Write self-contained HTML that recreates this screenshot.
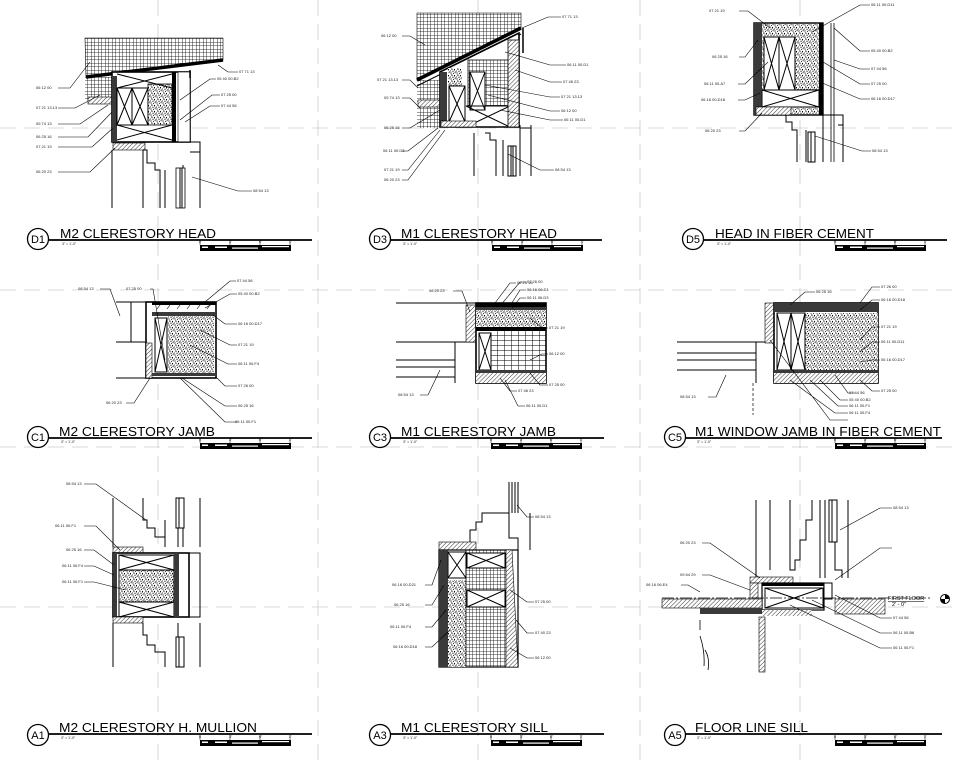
<!DOCTYPE html>
<html><head><meta charset="utf-8"><style>
html,body{margin:0;padding:0;background:#fff;}
svg{display:block}
.l{font-family:"Liberation Sans",sans-serif;font-size:4px;fill:#222}
.t{font-family:"Liberation Sans",sans-serif;font-size:13px;fill:#000}
.s{font-family:"Liberation Sans",sans-serif;font-size:3.5px;fill:#222}
.ld{stroke:#000;stroke-width:0.6;fill:none}
.o{stroke:#000;stroke-width:1;fill:none}
.ob{stroke:#000;stroke-width:1.6;fill:none}
.g{stroke:#ccc;stroke-width:0.8;stroke-dasharray:16 8;fill:none}
</style></head><body>
<svg width="956" height="768" viewBox="0 0 956 768" xmlns="http://www.w3.org/2000/svg">
<defs>
<pattern id="grid" width="3.5" height="3.5" patternUnits="userSpaceOnUse"><path d="M0 0H3.5M0 0V3.5" stroke="#000" stroke-width="0.8"/></pattern>
<pattern id="gridL" width="7" height="5" patternUnits="userSpaceOnUse"><path d="M0 0H7M0 0V5" stroke="#000" stroke-width="1"/></pattern>
<pattern id="st" width="6" height="6" patternUnits="userSpaceOnUse"><rect width="6" height="6" fill="#fff"/><g fill="#000"><circle cx="1" cy="1" r=".6"/><circle cx="3.5" cy="1.5" r=".5"/><circle cx="5.2" cy="0.8" r=".5"/><circle cx="2" cy="3.2" r=".6"/><circle cx="4.5" cy="3.5" r=".6"/><circle cx="0.6" cy="5" r=".5"/><circle cx="3" cy="5.2" r=".6"/><circle cx="5.4" cy="5.4" r=".4"/><path d="M1.2 2.2l1 .4M4 4.6l1-.4M3.8 0.3l.6.6" stroke="#000" stroke-width=".4"/></g></pattern>
<pattern id="h" width="3" height="3" patternUnits="userSpaceOnUse" patternTransform="rotate(45)"><rect width="3" height="3" fill="#fff"/><path d="M0 0V3" stroke="#000" stroke-width="0.8"/></pattern>
<pattern id="dk" width="2" height="2" patternUnits="userSpaceOnUse"><rect width="2" height="2" fill="#222"/><circle cx="1" cy="1" r=".4" fill="#fff"/></pattern>
</defs>

<path class="g" d="M158 0V768M318 0V768M478 0V768M640 0V768M800 0V768M0 128H956M0 290H956M0 447H956M0 607H956"/>

<!-- D1 -->
<polygon points="85,38 223,38 223,60 86,77" fill="url(#grid)" stroke="#000" stroke-width=".6"/>
<rect x="85" y="77" width="28" height="23" fill="url(#grid)"/>
<path d="M86 77L223 60" stroke="#000" stroke-width="3.5"/>
<rect x="88" y="97" width="25" height="7" fill="url(#h)" stroke="#000" stroke-width=".6"/>
<rect x="112" y="72" width="78" height="70" class="ob" style="fill:#fff"/>
<rect x="112" y="76" width="5" height="66" fill="url(#dk)"/>
<rect x="117" y="88" width="15" height="37" class="o"/><path class="o" d="M117 88L132 125M132 88L117 125"/>
<rect x="132" y="88" width="16" height="37" class="o"/><path class="o" d="M132 88L148 125M148 88L132 125"/>
<rect x="148" y="84" width="24" height="41" fill="url(#st)" stroke="#000" stroke-width=".8"/>
<path class="o" d="M117 74L172 88M172 74L117 88M117 125L172 140M172 125L117 140"/>
<rect x="172" y="72" width="4" height="70" fill="#000"/>
<rect x="178" y="72" width="12" height="70" fill="#fff" stroke="#000" stroke-width=".6"/>
<path d="M190 70v8" stroke="#000" stroke-width="1.5"/>
<rect x="113" y="143" width="32" height="7" fill="url(#h)" stroke="#000" stroke-width=".6"/>
<path class="o" d="M112 150V208M143 150V208M143 150H147V163H155V170H160V208M165 170V208M178 168V208M183 165V208M200 142V208M178 142H200V152H190"/>
<rect x="176" y="168" width="9" height="40" fill="#fff" stroke="#000" stroke-width=".8"/><path class="o" d="M180 168V208M182 168V208"/>
<g class="ld"><path d="M58 88H70L90 62M58 108H75L100 95M58 124H80L108 105M58 137H88L112 112M58 147H92L113 128M58 172H90L115 148M238 72H228L218 65M216 79H210L180 100M220 95H212L180 120M220 106H210L185 122M252 191H238L192 177"/></g>
<g class="l"><text x="36" y="89">06 12 00</text><text x="36" y="109">07 21 13.13</text><text x="36" y="125">09 74 13</text><text x="36" y="138">06 25 16</text><text x="36" y="148">07 21 19</text><text x="36" y="173">06 20 23</text><text x="239" y="73">07 71 13</text><text x="217" y="80">05 40 00.B2</text><text x="221" y="96">07 25 00</text><text x="221" y="107">07 44 56</text><text x="253" y="192">08 54 13</text></g>

<!-- D3 -->
<polygon points="417,13 521,13 521,28 417,80" fill="url(#grid)" stroke="#000" stroke-width=".6"/>
<rect x="417" y="80" width="23" height="48" fill="url(#grid)"/>
<path d="M417 80L521 28" stroke="#000" stroke-width="3.5"/>
<path d="M417 86L521 34" stroke="#000" stroke-width="1"/>
<rect x="418" y="100" width="22" height="7" fill="url(#h)" stroke="#000" stroke-width=".6"/>
<polygon points="440,72 519,33 519,127 440,127" fill="#fff" stroke="#000" stroke-width="1.6"/>
<rect x="440" y="72" width="7" height="55" fill="url(#dk)"/>
<rect x="448" y="68" width="14" height="18" fill="url(#st)"/>
<rect x="449" y="86" width="16" height="36" class="o"/><path class="o" d="M449 86L465 122M465 86L449 122"/>
<rect x="468" y="60" width="40" height="46" fill="url(#grid)" stroke="#000" stroke-width=".8"/>
<rect x="470" y="72" width="15" height="38" class="o" style="fill:#fff"/><path class="o" d="M470 72L485 110M485 72L470 110"/>
<path class="o" d="M466 106L510 127M510 106L466 127M466 106H510"/>
<rect x="508" y="40" width="11" height="87" fill="url(#h)" stroke="#000" stroke-width=".8"/>
<path d="M523 28v25" stroke="#000" stroke-width="1.5"/>
<rect x="441" y="121" width="35" height="6" fill="url(#h)" stroke="#000" stroke-width=".6"/>
<path class="o" d="M474 133V176M485 133H490V140H496V176M503 140V176M520 125V176M531 125V176M520 128H531"/>
<rect x="508" y="146" width="8" height="30" fill="#fff" stroke="#000"/><path class="o" d="M511 146V176M513 146V176"/>
<g class="ld"><path d="M402 36H410L425 45M402 80H410L418 88M402 98H410L420 108M402 128H410L440 110M402 151H408L438 128M402 170H408L440 130M402 180H408L445 130M561 17H548L522 28M566 65H550L505 52M562 82H550L515 70M560 97H550L485 85M560 111H550L488 95M563 120H550L500 110M554 170H540L508 154"/></g>
<g class="l"><text x="381" y="37">06 12 00</text><text x="377" y="81">07 21 13.13</text><text x="384" y="99">09 74 13</text><text x="384" y="129">06 25 16</text><text x="383" y="152">06 11 00.D3</text><text x="384" y="171">07 21 19</text><text x="384" y="181">06 20 23</text><text x="562" y="18">07 71 13</text><text x="567" y="66">06 11 00.D1</text><text x="563" y="83">07 46 23</text><text x="561" y="98">07 21 13.13</text><text x="561" y="112">06 12 00</text><text x="564" y="121">06 11 00.D1</text><text x="555" y="171">08 54 13</text></g>

<!-- D5 -->
<rect x="754" y="23" width="69" height="92" fill="url(#st)" stroke="#000" stroke-width="1.4"/>
<rect x="754" y="23" width="8" height="92" fill="url(#dk)"/>
<rect x="764" y="37" width="15" height="53" class="o" style="fill:#fff"/><path class="o" d="M764 37L779 90M779 37L764 90"/>
<rect x="779" y="37" width="16" height="53" class="o" style="fill:#fff"/><path class="o" d="M779 37L795 90M795 37L779 90"/>
<rect x="762" y="90" width="57" height="17" class="o" style="fill:#fff"/><path class="o" d="M762 90L819 107M819 90L762 107"/>
<rect x="819" y="23" width="4" height="92" fill="#000"/>
<path d="M831 23V162M834 23V162" stroke="#000" stroke-width=".8"/>
<rect x="756" y="107" width="35" height="8" fill="url(#h)" stroke="#000" stroke-width=".6"/>
<path class="o" d="M786 115V122H792V130H797V162M806 130V162M823 115V162M843 115V162M823 115H843V125H838"/>
<rect x="808" y="132" width="7" height="30" fill="#fff" stroke="#000"/><path class="o" d="M811 132V162"/>
<g class="ld"><path d="M739 11H748L770 28M739 57H745L758 40M738 84H745L768 62M738 100H745L760 93M739 131H745L762 113M870 5H860L812 32M870 51H860L834 28M870 69H860L834 60M870 84H860L823 62M870 99H860L820 82M871 151H862L815 136"/></g>
<g class="l"><text x="709" y="12">07 21 19</text><text x="712" y="58">06 25 16</text><text x="704" y="85">06 11 00.A7</text><text x="701" y="101">06 16 00.D18</text><text x="705" y="132">06 20 23</text><text x="871" y="6">06 11 00.D11</text><text x="871" y="52">05 40 00.B2</text><text x="871" y="70">07 44 56</text><text x="871" y="85">07 25 00</text><text x="871" y="100">06 16 00.D17</text><text x="872" y="152">08 54 13</text></g>

<!-- C1 -->
<path class="o" d="M116 302H146M116 342H146M131 302V342M116 378H216"/>
<rect x="146" y="302" width="70" height="76" class="ob" style="fill:#fff"/>
<rect x="152" y="302" width="64" height="3" fill="#000"/>
<path d="M160 305l-3 4M170 305l-3 4M180 305l-3 4M190 305l-3 4M200 305l-3 4M210 305l-3 4" stroke="#000" stroke-width=".6"/>
<rect x="152" y="312" width="64" height="4" fill="url(#dk)"/>
<rect x="168" y="316" width="46" height="57" fill="url(#st)"/>
<rect x="155" y="318" width="12" height="54" class="o"/><path class="o" d="M155 318L167 372M167 318L155 372"/>
<rect x="146" y="343" width="6" height="35" fill="url(#h)" stroke="#000" stroke-width=".6"/>
<rect x="152" y="373" width="64" height="3" fill="url(#dk)"/>
<g class="ld"><path d="M100 289H110L120 316M150 289H153L165 360M236 281H230L205 302M237 294H230L205 308M237 324H225L213 315M237 345H230L200 330M237 364H228L190 345M237 386H225L216 377M237 406H225L182 378M237 422H225L180 378M126 403H134L150 378"/></g>
<g class="l"><text x="78" y="290">08 54 13</text><text x="126" y="290">07 25 00</text><text x="237" y="282">07 44 56</text><text x="238" y="295">05 40 00.B2</text><text x="238" y="325">06 16 00.D17</text><text x="238" y="346">07 21 19</text><text x="238" y="365">06 11 00.F4</text><text x="238" y="387">07 26 00</text><text x="238" y="407">06 25 16</text><text x="235" y="423">06 11 00.F1</text><text x="106" y="404">06 20 23</text></g>

<!-- C3 -->
<path class="o" d="M396 303H476M396 342H476M396 360H455M396 367H455M396 377H455M455 342V383"/>
<rect x="466" y="305" width="10" height="37" fill="url(#h)" stroke="#000" stroke-width=".6"/>
<rect x="476" y="303" width="70" height="80" class="ob" style="fill:#fff"/>
<rect x="476" y="303" width="70" height="4" fill="#000"/>
<rect x="476" y="307" width="70" height="3" fill="url(#dk)"/>
<rect x="476" y="310" width="70" height="17" fill="url(#st)"/>
<rect x="476" y="327" width="70" height="4" fill="#000"/>
<rect x="491" y="331" width="55" height="39" fill="url(#gridL)"/>
<rect x="479" y="333" width="12" height="37" class="o" style="fill:#fff"/><path class="o" d="M479 333L491 370M491 333L479 370"/>
<rect x="476" y="370" width="70" height="3" fill="url(#dk)"/>
<rect x="476" y="373" width="70" height="10" fill="url(#h)"/>
<g class="ld"><path d="M453 291H462L470 312M516 283H510L495 303M526 282H520L500 306M526 290H520L510 306M526 298H520L512 308M548 328H542L530 318M548 354H542L530 360M548 385H540L530 373M517 391H510L500 378M525 406H518L505 380M420 395H428L440 370"/></g>
<g class="l"><text x="429" y="292">06 20 23</text><text x="517" y="284">06 25 16</text><text x="527" y="283">07 26 00</text><text x="527" y="291">06 16 06.D1</text><text x="527" y="299">06 11 06.D3</text><text x="549" y="329">07 21 19</text><text x="549" y="355">06 12 00</text><text x="549" y="386">07 25 00</text><text x="518" y="392">07 46 23</text><text x="526" y="407">06 11 00.D1</text><text x="398" y="396">08 54 13</text></g>

<!-- C5 -->
<path class="o" d="M677 342H774M677 353H756M677 360H756M677 370H756M756 342V383"/>
<path d="M753 383V415" stroke="#000" stroke-width=".7" stroke-dasharray="3 2"/>
<rect x="765" y="303" width="9" height="40" fill="url(#h)" stroke="#000" stroke-width=".6"/>
<rect x="774" y="303" width="104" height="80" class="ob" style="fill:#fff"/>
<rect x="774" y="303" width="104" height="9" fill="url(#dk)"/>
<rect x="805" y="313" width="73" height="57" fill="url(#st)"/>
<rect x="777" y="313" width="14" height="57" class="o" style="fill:#fff"/><path class="o" d="M777 313L791 370M791 313L777 370"/>
<rect x="791" y="313" width="14" height="57" class="o" style="fill:#fff"/><path class="o" d="M791 313L805 370M805 313L791 370"/>
<rect x="774" y="370" width="104" height="3" fill="url(#dk)"/>
<rect x="774" y="373" width="104" height="10" fill="url(#h)"/>
<g class="ld"><path d="M815 292H805L790 305M880 287H872L860 303M880 300H872L860 310M880 327H872L860 340M880 342H872L860 352M880 360H872L860 362M880 391H872L860 380M855 393H848L835 375M848 400H840L820 380M848 406H838L810 380M848 413H835L790 380M848 420H830L770 340M708 397H716L726 375"/></g>
<g class="l"><text x="816" y="293">06 25 16</text><text x="881" y="288">07 26 00</text><text x="881" y="301">06 16 00.D18</text><text x="881" y="328">07 21 19</text><text x="881" y="343">06 11 00.D11</text><text x="881" y="361">06 16 00.D17</text><text x="881" y="392">07 25 00</text><text x="849" y="394">07 44 56</text><text x="849" y="401">05 40 00.B2</text><text x="849" y="407">06 11 00.F1</text><text x="849" y="414">06 11 00.F4</text><text x="680" y="398">08 54 13</text></g>

<!-- A1 -->
<path class="o" d="M113 498V547M143 498V520H147V528H155V537H165V547M165 520V547M178 498V547M183 498V547M200 498V547M113 623V667M143 623V635H147V645H155V652H165V667M178 623V667M200 623V667M189 553H200V617H189"/>
<rect x="176" y="498" width="8" height="30" fill="#fff" stroke="#000"/><path class="o" d="M179 498V528"/>
<rect x="176" y="637" width="8" height="30" fill="#fff" stroke="#000"/><path class="o" d="M179 637V667"/>
<rect x="113" y="547" width="30" height="6" fill="url(#h)" stroke="#000" stroke-width=".6"/>
<rect x="113" y="553" width="76" height="64" class="ob" style="fill:#fff"/>
<rect x="113" y="553" width="4" height="64" fill="url(#dk)"/>
<rect x="119" y="555" width="55" height="15" class="o"/><path class="o" d="M119 555L174 570M174 555L119 570"/>
<rect x="119" y="570" width="55" height="32" fill="url(#st)" stroke="#000" stroke-width="1"/>
<rect x="119" y="602" width="55" height="15" class="o"/><path class="o" d="M119 602L174 617M174 602L119 617"/>
<rect x="174" y="553" width="5" height="64" fill="url(#dk)"/>
<rect x="113" y="617" width="30" height="6" fill="url(#h)" stroke="#000" stroke-width=".6"/>
<g class="ld"><path d="M84 484H96L146 520M84 526H96L120 550M84 550H94L114 565M84 566H94L114 575M84 582H94L126 590"/></g>
<g class="l"><text x="66" y="485">08 54 13</text><text x="55" y="527">06 11 00.F1</text><text x="66" y="551">06 25 16</text><text x="62" y="567">06 11 00.F4</text><text x="62" y="583">06 11 00.F1</text></g>

<!-- A3 -->
<path class="o" d="M509 482V513M512 482V513M515 482V513M518 482V513M470 550V530H476V522H482V513H509V538H518V550M530 513V550"/>
<rect x="439" y="542" width="37" height="8" fill="url(#h)" stroke="#000" stroke-width=".6"/>
<rect x="439" y="550" width="79" height="117" fill="#fff" stroke="#000" stroke-width="1.2"/>
<rect x="439" y="550" width="9" height="117" fill="url(#dk)"/>
<rect x="448" y="580" width="18" height="87" fill="url(#st)"/>
<rect x="448" y="552" width="18" height="26" class="o"/><path class="o" d="M448 552L466 578M466 552L448 578"/>
<rect x="466" y="550" width="40" height="117" fill="url(#grid)" stroke="#000" stroke-width=".8"/>
<rect x="467" y="553" width="38" height="15" class="o" style="fill:#fff"/><path class="o" d="M467 553L505 568M505 553L467 568"/>
<rect x="467" y="590" width="38" height="17" class="o" style="fill:#fff"/><path class="o" d="M467 590L505 607M505 590L467 607"/>
<polygon points="506,550 512,550 518,667 506,667" fill="url(#h)" stroke="#000" stroke-width=".6"/>
<g class="ld"><path d="M425 585H432L441 560M425 605H432L444 585M425 627H432L446 610M425 647H432L450 630M534 517H527L517 505M534 602H527L510 590M534 633H527L516 620M534 658H527L510 648"/></g>
<g class="l"><text x="392" y="586">06 16 00.D21</text><text x="394" y="606">06 25 16</text><text x="390" y="628">06 11 00.F4</text><text x="393" y="648">06 16 00.D18</text><text x="535" y="518">08 54 13</text><text x="535" y="603">07 25 00</text><text x="535" y="634">07 40 23</text><text x="535" y="659">06 12 00</text></g>

<!-- A5 -->
<path class="o" d="M756 500V577M770 500V570M790 500V570H795V560H800V540H806V520H812V500M820 500V578M825 500V578M835 500V570H842V578M848 500V578"/>
<rect x="829" y="500" width="8" height="42" fill="#fff" stroke="#000"/><path class="o" d="M832 500V542"/>
<rect x="750" y="577" width="43" height="6" fill="url(#h)" stroke="#000" stroke-width=".6"/>
<rect x="750" y="583" width="8" height="15" fill="url(#h)" stroke="#000" stroke-width=".6"/>
<rect x="762" y="583" width="62" height="27" fill="#fff" stroke="#000" stroke-width="1.2"/>
<rect x="762" y="583" width="62" height="3" fill="#000"/>
<rect x="765" y="588" width="58" height="20" class="o"/><path class="o" d="M765 588L823 608M823 588L765 608"/>
<rect x="824" y="583" width="8" height="16" fill="#fff" stroke="#000"/>
<path d="M662 598H930" stroke="#000" stroke-width=".8" stroke-dasharray="12 2 2 2"/>
<rect x="662" y="599" width="100" height="9" fill="url(#h)" stroke="#000" stroke-width=".6"/>
<rect x="700" y="608" width="62" height="6" fill="url(#dk)"/>
<rect x="762" y="610" width="50" height="6" fill="url(#h)"/>
<rect x="835" y="599" width="50" height="15" fill="url(#h)" stroke="#000" stroke-width=".6"/>
<rect x="759" y="617" width="6" height="55" fill="url(#h)" stroke="#000" stroke-width=".6"/>
<path d="M700 620v10M700 636q5 15 4 30M705 650q5 8 3 20" stroke="#000" stroke-width=".8" fill="none"/>
<text x="888" y="600" style="font-family:'Liberation Sans',sans-serif;font-size:5.5px;text-decoration:underline">FIRST FLOOR</text>
<text x="892" y="606" style="font-family:'Liberation Sans',sans-serif;font-size:5.5px">2' - 0"</text>
<circle cx="945" cy="599" r="4.5" fill="#fff" stroke="#000"/><path d="M945 594.5A4.5 4.5 0 0 1 949.5 599H945Z M945 603.5A4.5 4.5 0 0 1 940.5 599H945Z" fill="#000"/>
<g class="ld"><path d="M892 548H880L835 580M892 508H880L840 530M702 543H710L760 578M702 575H710L750 590M681 585H688L700 592M892 618H880L835 595M892 633H880L812 600M892 648H880L790 605"/></g>
<g class="l"><text x="893" y="509">08 54 13</text><text x="680" y="544">06 20 23</text><text x="680" y="576">09 64 29</text><text x="646" y="586">06 16 06.E4</text><text x="893" y="619">07 44 56</text><text x="893" y="634">06 11 00.B6</text><text x="893" y="649">06 11 00.F1</text></g>

<!-- TITLES -->
<g fill="none" stroke="#000">
<circle cx="38" cy="239" r="10.5" stroke-width="1.3"/><path d="M49 240H312" stroke-width="1.8"/>
<circle cx="380" cy="239" r="10.5" stroke-width="1.3"/><path d="M391 240H602" stroke-width="1.8"/>
<circle cx="693" cy="239" r="10.5" stroke-width="1.3"/><path d="M704 240H947" stroke-width="1.8"/>
<circle cx="38" cy="437" r="10.5" stroke-width="1.3"/><path d="M49 438H312" stroke-width="1.8"/>
<circle cx="380" cy="437" r="10.5" stroke-width="1.3"/><path d="M391 438H604" stroke-width="1.8"/>
<circle cx="675" cy="437" r="10.5" stroke-width="1.3"/><path d="M686 438H942" stroke-width="1.8"/>
<circle cx="38" cy="735" r="10.5" stroke-width="1.3"/><path d="M49 734H312" stroke-width="1.8"/>
<circle cx="380" cy="735" r="10.5" stroke-width="1.3"/><path d="M391 734H604" stroke-width="1.8"/>
<circle cx="675" cy="735" r="10.5" stroke-width="1.3"/><path d="M686 734H942" stroke-width="1.8"/>
</g>
<g style="font-family:'Liberation Sans',sans-serif;font-size:11px" text-anchor="middle">
<text x="38" y="243">D1</text><text x="380" y="243">D3</text><text x="693" y="243">D5</text>
<text x="38" y="441">C1</text><text x="380" y="441">C3</text><text x="675" y="441">C5</text>
<text x="38" y="739">A1</text><text x="380" y="739">A3</text><text x="675" y="739">A5</text>
</g>
<g class="t">
<text x="60" y="238" textLength="156" lengthAdjust="spacingAndGlyphs">M2 CLERESTORY HEAD</text>
<text x="401" y="238" textLength="156" lengthAdjust="spacingAndGlyphs">M1 CLERESTORY HEAD</text>
<text x="715" y="238" textLength="159" lengthAdjust="spacingAndGlyphs">HEAD IN FIBER CEMENT</text>
<text x="59" y="436" textLength="156" lengthAdjust="spacingAndGlyphs">M2 CLERESTORY JAMB</text>
<text x="401" y="436" textLength="155" lengthAdjust="spacingAndGlyphs">M1 CLERESTORY JAMB</text>
<text x="695" y="436" textLength="246" lengthAdjust="spacingAndGlyphs">M1 WINDOW JAMB IN FIBER CEMENT</text>
<text x="59" y="732" textLength="198" lengthAdjust="spacingAndGlyphs">M2 CLERESTORY H. MULLION</text>
<text x="401" y="732" textLength="147" lengthAdjust="spacingAndGlyphs">M1 CLERESTORY SILL</text>
<text x="695" y="732" textLength="113" lengthAdjust="spacingAndGlyphs">FLOOR LINE SILL</text>
</g>
<g class="s">
<text x="62" y="245">3" = 1'-0"</text><text x="403" y="245">3" = 1'-0"</text><text x="717" y="245">3" = 1'-0"</text>
<text x="61" y="443">3" = 1'-0"</text><text x="403" y="443">3" = 1'-0"</text><text x="697" y="443">3" = 1'-0"</text>
<text x="61" y="739">3" = 1'-0"</text><text x="403" y="739">3" = 1'-0"</text><text x="697" y="739">3" = 1'-0"</text>
</g>
<g id="sb">
<g transform="translate(200,243)"><text class="s" x="-1" y="0">0</text><text class="s" x="29" y="0">3"</text><text class="s" x="59" y="0">6"</text><text class="s" x="89" y="0">1'</text><path d="M0 -3V2M30 -3V2M60 -3V2M90 -3V2" stroke="#000" stroke-width=".5"/><rect x="0" y="2" width="91" height="6" fill="#000"/><rect x="2" y="3.5" width="6" height="1.5" fill="#fff"/><rect x="15" y="3.5" width="12" height="1.5" fill="#fff"/><rect x="32" y="4.5" width="26" height="1.2" fill="#fff"/><rect x="62" y="3" width="27" height="1.2" fill="#fff"/></g>
</g>
<use href="#sb" x="292" y="0"/><use href="#sb" x="635" y="0"/>
<use href="#sb" x="0" y="198"/><use href="#sb" x="291" y="198"/><use href="#sb" x="635" y="198"/>
<use href="#sb" x="0" y="495"/><use href="#sb" x="291" y="495"/><use href="#sb" x="635" y="495"/>
</svg>
</body></html>
